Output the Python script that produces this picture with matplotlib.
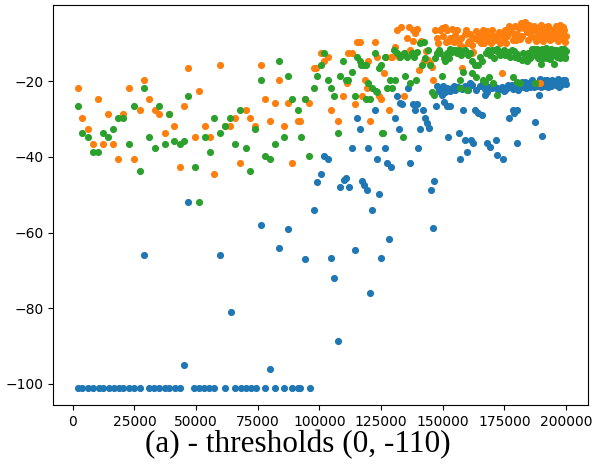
"""
Episode reward vs training steps, three runs, caption "(a) - thresholds (0, -110)".
"""

import matplotlib
matplotlib.use("Agg")
import matplotlib.pyplot as plt

# ---- blue run ----
blue_x = [
    2000, 3800, 6100, 8400, 10500, 12300, 14600, 16700, 18600, 20500,
    22800, 25000, 27300, 28900, 31100, 33000, 35000, 37300, 39200, 41300,
    43400, 45100, 46900, 49300, 51000, 53300, 55400, 57400, 59600, 61700,
    64000, 65800, 68100, 70200, 72300, 74200, 76300, 78100, 79800, 82100,
    83700, 85600, 87300, 88900, 91200, 92100, 94300, 96100, 97700, 99000,
    100500, 101850, 103600, 104800, 106000, 107500, 108300, 110000, 110900, 112000,
    113200, 114400, 115400, 116300, 117100, 118100, 119100, 119800, 120600, 121400,
    122400, 123200, 124100, 125000, 126600, 127500, 128300, 128900, 130800, 131500,
    132400, 132800, 133500, 135900, 136900, 137800, 138600, 139600, 140000, 140900,
    141900, 142900, 143600, 144600, 145200, 145900, 146300, 147400, 147700, 149000,
    149700, 150400, 151000, 151700, 152100, 152800, 153700, 154400, 155100, 156400,
    157000, 158300, 158800, 159700, 161000, 161500, 162400, 163100, 164400, 165800,
    166400, 167100, 167800, 168500, 169000, 169800, 171200, 171600, 171800, 172500,
    173900, 174500, 175200, 176600, 176900, 177900, 178400, 178800, 179300, 179900,
    180000, 180600, 182000, 183300, 184000, 184600, 185300, 186000, 186700, 187500,
    188200, 188900, 189400, 190200, 190400, 190900, 191600, 192300, 193000, 193700,
    194400, 195100, 195800, 196500, 197200, 197900, 198600, 199300, 200000,
]
blue_y = [
    -101, -101, -101, -101, -101, -101, -101, -101, -101, -101,
    -101, -101, -101, -66, -101, -101, -101, -101, -101, -101,
    -101, -95, -52, -101, -101, -101, -101, -101, -66, -101,
    -81, -101, -101, -101, -101, -101, -58, -101, -96, -101,
    -64, -101, -59, -101, -101, -101, -67, -101, -54, -46.6,
    -44.6, -39.8, -40.6, -66.7, -72, -88.7, -48, -46.1, -45.7, -48,
    -37.7, -64.5, -29.7, -32.6, -46.5, -47.4, -48.7, -37.7, -76, -54,
    -27.7, -40.6, -49.8, -66.7, -37.7, -41.7, -61.8, -42.6, -29.7, -23.8,
    -32.6, -25.8, -25.9, -21.9, -41.7, -25.9, -27.6, -25.9, -37.7, -32.6,
    -27.6, -29.8, -31.1, -32.5, -48.7, -58.7, -46.5, -26.6, -21.4, -21.9,
    -23.6, -25.4, -22.8, -26.6, -34.7, -26.6, -21.9, -21.4, -22.3, -33.8,
    -40.6, -27.6, -35.5, -38.6, -20.6, -35.5, -36.4, -27.6, -28.5, -28.9,
    -20.6, -23.6, -36.4, -21.5, -37.3, -21.9, -21.5, -35.5, -39.5, -22.3,
    -21.5, -40.6, -22.3, -21, -29.8, -21, -27.6, -28.5, -21.9, -27.6,
    -36.4, -22.3, -20.1, -20.1, -20.6, -20.5, -21.5, -19.8, -20.8, -30.7,
    -21.2, -23.6, -19.5, -34.5, -20.8, -20, -21.3, -19.8, -20.5, -21.4,
    -19.6, -20.3, -21, -19.5, -20.2, -21, -19.8, -20.4, -20.8,
]
# extra blue points packed into the -20 band on the right
blue_band_x = [
    148300, 150000, 151500, 153000, 156000, 157600, 159000, 160200, 162000, 163500,
    165000, 166900, 168000, 170500, 172000, 174600, 176000, 178300, 181200, 182600,
    183600, 185700, 187100, 189900, 191300, 192700, 194800, 196900, 198300, 199700,
]
blue_band_y = [
    -22.5, -21.2, -21.8, -22.6, -21.5, -22, -21.2, -22.4, -21, -22.2,
    -21.3, -22, -22.8, -21.2, -21.8, -22.5, -21.8, -22, -21, -21.6,
    -21.8, -20.2, -21.6, -21.5, -19.6, -21.5, -20.8, -21.5, -20.7, -19.7,
]

# ---- orange run ----
orange_x = [
    2000, 3900, 6100, 8200, 10400, 12200, 14300, 16500, 18200, 20500,
    22800, 25000, 27100, 28900, 31100, 33200, 35100, 37300, 39000, 41200,
    43400, 45100, 46900, 49400, 51200, 53500, 55600, 57400, 59600, 61700,
    63900, 65800, 67900, 70100, 71900, 73800, 76300, 78100, 79800, 82000,
    83700, 85500, 87300, 89000, 91200, 92300, 94300, 95900, 97700, 98700,
    100500, 101900, 103600, 104800, 107400, 109700, 111000, 111600, 113300, 114400,
    115400, 116400, 117100, 118500, 119100, 119800, 120600, 122400, 123200, 124100,
    124800, 126200, 126800, 128300, 128900, 129400, 130500, 131450, 132300, 133200,
    134150, 134820, 135500, 136170, 136850, 137800, 138880, 140230, 141200, 142260,
    143100, 144010, 144960, 145630, 146040, 146980, 148000, 149000, 150000, 150770,
    151710, 152400, 153060, 154410, 155090, 156440, 157000, 157300, 157800, 158300,
    158800, 159600, 160400, 161000, 161700, 162000, 162400, 162700, 163300, 164300,
    165000, 165800, 166700, 167500, 168300, 169200, 170000, 170900, 171800, 172600,
    173200, 174000, 174600, 175400, 176200, 177000, 177800, 178400, 179200, 180000,
    180800, 181600, 182200, 183000, 183500, 184200, 185000, 185600, 186400, 187200,
    188000, 188600, 189500, 190200, 191000, 191800, 192500, 193300, 194000, 194800,
    195500, 196300, 197000, 197800, 198500, 199200, 199800,
]
orange_y = [
    -21.7, -29.7, -32.6, -36.6, -24.6, -36.6, -28.6, -36.6, -40.6, -28.6,
    -21.8, -40.6, -27.7, -19.8, -24.6, -27.7, -28.6, -33.8, -28.8, -31.8,
    -42.6, -26.6, -16.6, -34.7, -22.6, -31.8, -34.7, -44.6, -15.7, -31.8,
    -31.8, -29.7, -41.7, -27.7, -29.7, -31.8, -15.7, -24.6, -30.6, -25.8,
    -19.8, -31.8, -25.8, -41.7, -30.6, -30.6, -24.8, -25.8, -16.6, -16.6,
    -12.6, -14.6, -13.7, -27.7, -30.6, -23.8, -20.6, -12.6, -12.6, -25.9,
    -9.7, -9.7, -23.8, -19.8, -21.8, -14.6, -30.6, -9.7, -13.7, -23.8,
    -24.6, -17.8, -13.7, -27.7, -13.7, -13.7, -11, -6.5, -13.5, -5.6,
    -23.8, -12.6, -8.7, -5.6, -11.8, -6.5, -7.4, -17.1, -9.5, -14.8,
    -12, -14.4, -15.3, -16.2, -19.8, -6.5, -10, -6.5, -8, -5.6,
    -6.5, -9.5, -8.7, -9.6, -7.8, -9.1, -10.4, -8.5, -16.6, -10.9,
    -7.5, -6.5, -10, -7.5, -12.6, -10.4, -12.2, -8.5, -6.8, -9,
    -7.6, -8.5, -10, -7.5, -9, -8, -6.5, -8, -8.5, -7,
    -10, -17.9, -8.5, -6.5, -8, -5.5, -6.8, -9, -5.5, -7.5,
    -6, -4.5, -8, -6, -4.3, -7, -5.2, -8, -6.5, -8.5,
    -6, -7.5, -20.6, -6.5, -8, -7, -5.5, -8.5, -6.5, -7.5,
    -6, -8, -7, -6, -7.5, -6.5, -8,
]
orange_band_x = [
    138000, 139500, 147600, 149800, 151200, 153700, 155800, 160800, 163800, 165400,
    166200, 168000, 169600, 171200, 173600, 175800, 176600, 178800, 179600, 181200,
    182600, 184600, 185300, 186800, 187600, 189000, 189800, 190600, 191400, 192900,
    193600, 195100, 195900, 196700, 197400, 198100, 198900, 199500,
]
orange_band_y = [
    -9.5, -6.2, -8.5, -6, -9.6, -6.2, -6.5, -9.5, -8.2, -10,
    -6.5, -6.8, -10, -9.2, -7.5, -9.8, -7.2, -7.5, -9, -8.8,
    -5.2, -9.2, -6.2, -5.5, -9.5, -8.8, -5.2, -9.5, -5.8, -7,
    -9.2, -8.5, -5.5, -9.5, -5.2, -8.8, -5.6, -9.6,
]

# ---- green run ----
green_x = [
    2000, 3900, 6100, 8200, 10400, 12200, 14300, 16500, 18200, 20500,
    22800, 25000, 27100, 28900, 31100, 33200, 35100, 37300, 39000, 41200,
    43400, 45100, 46900, 49400, 51200, 53500, 55600, 57400, 59600, 61700,
    63900, 65800, 67900, 70100, 71900, 73800, 76300, 78100, 79800, 82000,
    83700, 85500, 87300, 89000, 91200, 92500, 94300, 95900, 97700, 99000,
    100500, 101900, 103470, 104820, 105900, 107530, 108200, 109690, 110630, 111580,
    113060, 114410, 115360, 116440, 116980, 117790, 118740, 119010, 119550, 120500,
    121440, 122390, 122790, 123470, 124140, 125090, 125300, 125630, 126440, 127520,
    128470, 129420, 130100, 130770, 131450, 132800, 134000, 134150, 134820, 135500,
    136850, 137500, 138200, 139000, 139550, 140900, 141600, 142260, 142930, 144010,
    144960, 145630, 146310, 147000, 147660, 148300, 149010, 149690, 150300, 151040,
    151700, 152390, 153100, 153740, 154400, 155090, 155800, 156440, 156970, 157120,
    158320, 159000, 159670, 160350, 161700, 162000, 163050, 163600, 164400, 165750,
    166300, 167100, 168450, 168900, 169800, 170480, 171160, 171830, 172500, 173860,
    175210, 176560, 177910, 178590, 179260, 179940, 180610, 181290, 181960, 183310,
    183990, 184600, 185300, 186000, 186700, 187500, 188200, 188900, 189600, 190300,
    191000, 191700, 192400, 193100, 193800, 194500, 195200, 195900, 196600, 197300,
    198000, 198700, 199400, 200000,
]
green_y = [
    -26.6, -33.8, -34.7, -38.6, -38.6, -33.8, -34.7, -32.6, -29.7, -29.7,
    -36.6, -26.6, -43.8, -21.8, -34.7, -37.7, -26.6, -36.6, -28.6, -35.7,
    -36.6, -35.7, -23.8, -42.6, -51.8, -34.7, -38.6, -29.7, -33.8, -31.8,
    -29.7, -36.6, -27.7, -37.7, -43.8, -32.6, -19.8, -39.8, -40.6, -36.6,
    -14.6, -34.7, -18.6, -24.6, -27.7, -34.7, -24.6, -39.8, -21.8, -18.6,
    -15.7, -12.6, -19.8, -21.8, -23.8, -33.8, -18.6, -14.6, -19.8, -19.8,
    -17.7, -23.8, -13.7, -14.6, -15.7, -15.7, -15.7, -24.6, -20.6, -24.6,
    -21.8, -12.6, -22.5, -22.8, -16.6, -15.7, -33.8, -33.8, -13.7, -21.8,
    -19.7, -21.9, -11.8, -19.7, -12.6, -13.5, -34.7, -12.6, -18.6, -13.5,
    -20.6, -12.6, -13.5, -19.7, -12.2, -10, -15.7, -9.6, -14, -11.8,
    -15.7, -22.8, -23.6, -14, -12.6, -11.8, -12.6, -18.6, -14, -14.8,
    -12.5, -14, -11.5, -12.2, -11.8, -11.8, -12.5, -11.8, -21.9, -19.7,
    -17.5, -11.8, -22.3, -13.1, -14.8, -17.9, -15.7, -18.8, -15.7, -14.8,
    -19.7, -20.1, -11.8, -18.8, -11.8, -20.6, -11.8, -23.6, -12.2, -12.2,
    -13.1, -12.2, -11.8, -18.8, -13.5, -20.1, -14, -20.6, -14.4, -14,
    -14.8, -12.5, -14, -11.5, -13, -20.6, -11.5, -12.5, -15.5, -11.5,
    -12.8, -11.3, -14, -12, -11.5, -13, -15.5, -11.8, -12.5, -14,
    -11.5, -12.5, -13.5, -12,
]
green_band_x = [
    157500, 160900, 164900, 167600, 169300, 170800, 172000, 173200, 174600, 175900,
    177300, 178700, 180200, 182600, 184300, 185700, 187000, 188600, 189300, 190700,
    192100, 193400, 194900, 196300, 197700, 199000, 199700,
]
green_band_y = [
    -13, -12.5, -13.5, -12.5, -13, -13.8, -11.5, -13.2, -11.8, -12.5,
    -13.5, -12, -12.8, -12.5, -13.5, -12.5, -11.5, -14, -12, -13.8,
    -12.5, -14.2, -11.8, -13.5, -12.2, -11.5, -14,
]

CAPTION = "(a) - thresholds (0, -110)"
X_TICKS = [0, 25000, 50000, 75000, 100000, 125000, 150000, 175000, 200000]
Y_TICKS = [-100, -80, -60, -40, -20]


def main() -> None:
    fig = plt.figure(figsize=(5.95, 4.7), dpi=100)
    ax = fig.add_axes([0.0891, 0.1383, 0.8992, 0.8511])

    dot = 17
    ax.scatter(blue_x + blue_band_x, blue_y + blue_band_y, s=dot, color="tab:blue")
    ax.scatter(orange_x + orange_band_x, orange_y + orange_band_y, s=dot,
               color="tab:orange")
    ax.scatter(green_x + green_band_x, green_y + green_band_y, s=dot,
               color="tab:green")

    ax.set_xlim(-7980, 208860)
    ax.set_ylim(-105.55, 0.13)
    ax.set_xticks(X_TICKS)
    ax.set_yticks(Y_TICKS)
    ax.tick_params(labelsize=10)

    fig.text(0.5, 0.037, CAPTION, ha="center", va="baseline",
             fontsize=22.5, family="Liberation Serif")

    fig.savefig("out.png", dpi=100)


if __name__ == "__main__":
    main()
